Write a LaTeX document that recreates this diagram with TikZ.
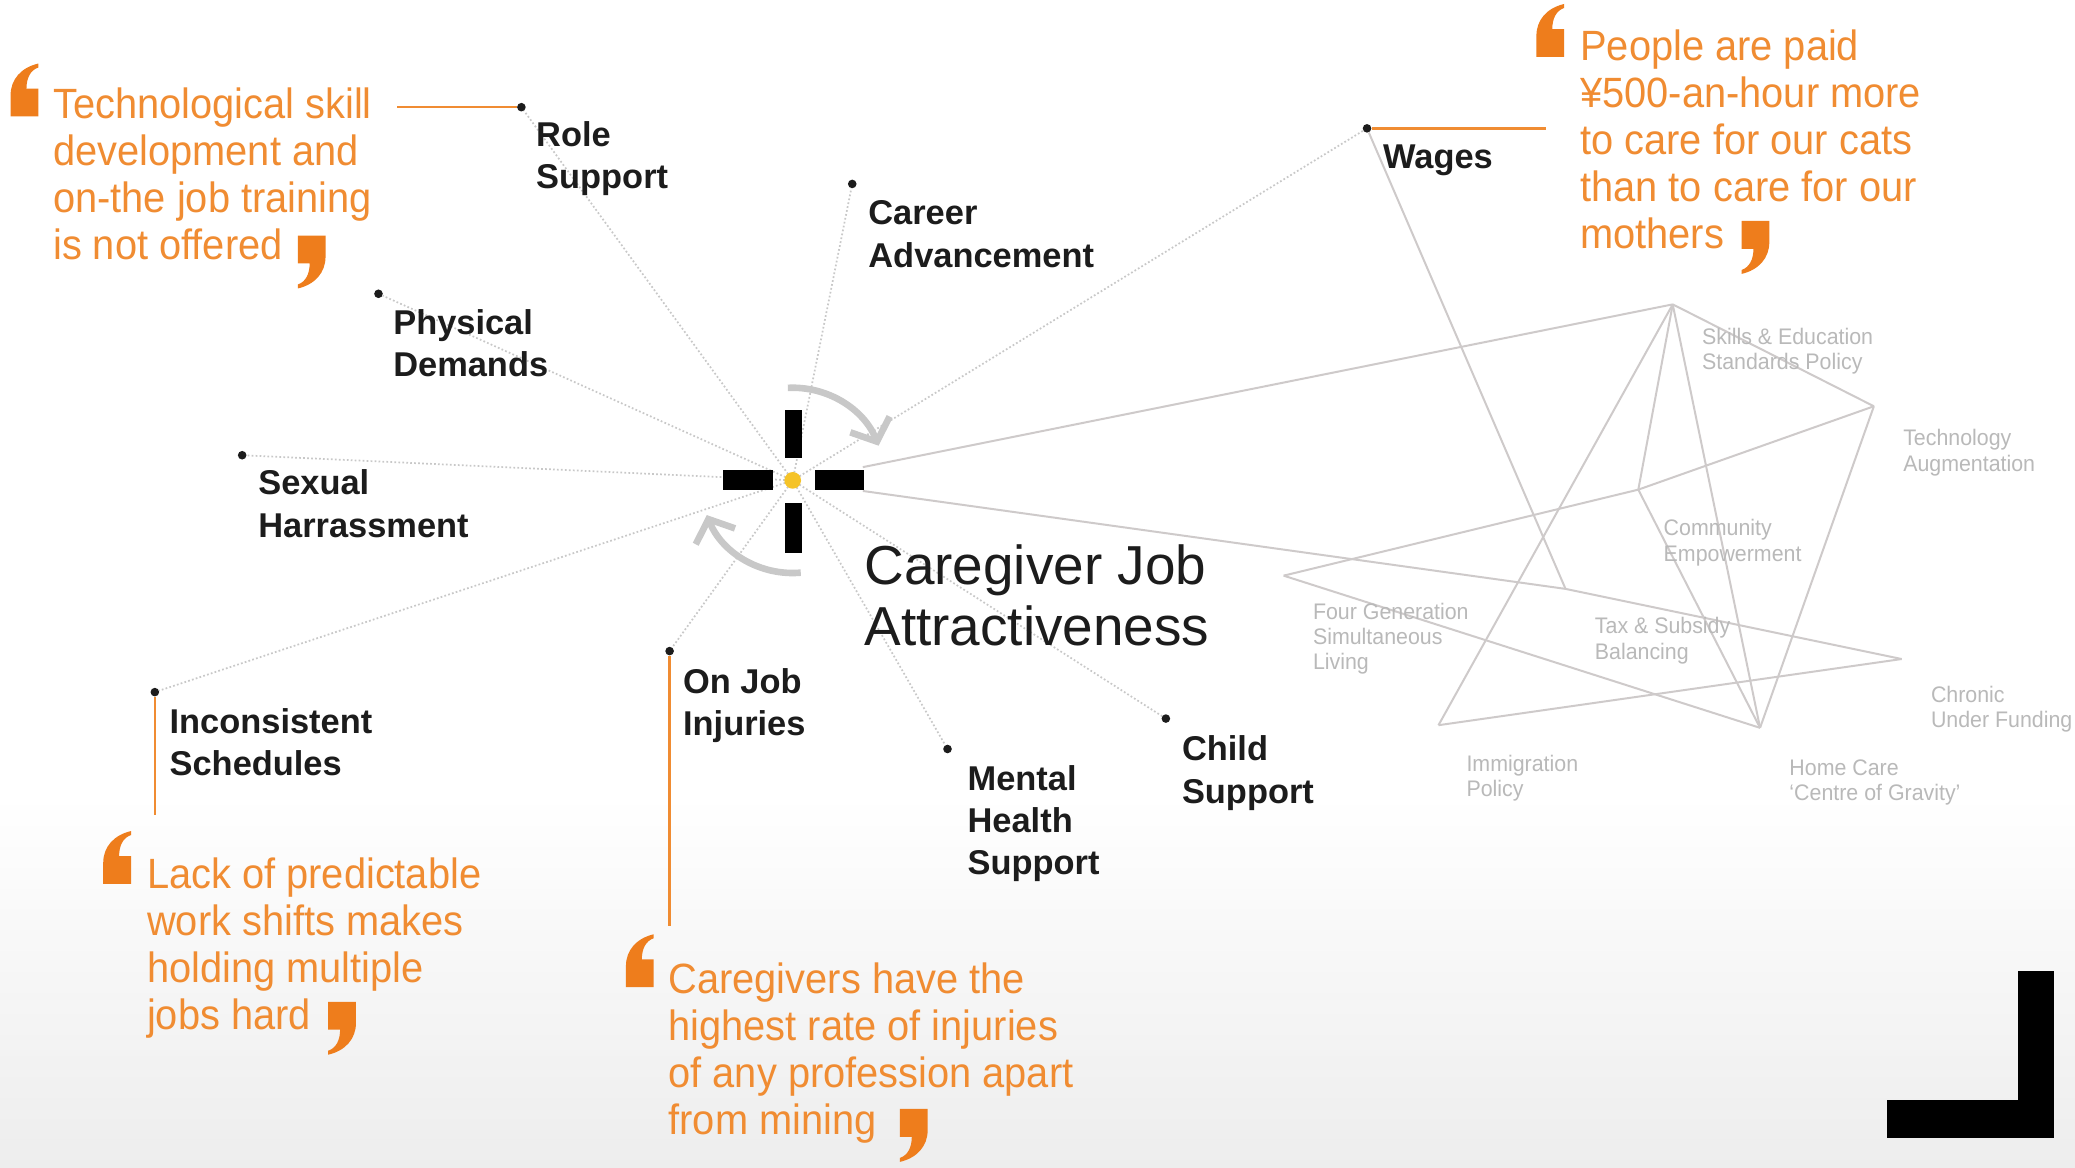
\documentclass[tikz,border=0pt]{standalone}
\usepackage{fontspec}
\setmainfont{Liberation Sans}
\newfontfamily\qfont{Liberation Sans}[FakeStretch=0.94]
\newfontfamily\nfont{Liberation Sans}[FakeStretch=0.95]
\usetikzlibrary{arrows.meta}
\definecolor{qorange}{RGB}{238,125,28}
\definecolor{torange}{RGB}{240,140,50}
\definecolor{netgray}{RGB}{206,202,202}
\definecolor{netlabel}{RGB}{185,185,185}
\definecolor{dotgray}{RGB}{200,200,200}
\definecolor{ink}{RGB}{28,28,28}
\definecolor{hubyellow}{RGB}{245,195,40}
\definecolor{arcgray}{RGB}{200,200,200}
\tikzset{
  lbl/.style={anchor=base west, inner sep=0pt, align=left, text=ink,
    font=\bfseries\fontsize{26}{31.8}\selectfont},
  quotetext/.style={anchor=base west, inner sep=0pt, align=left, text=torange,
    font=\qfont\fontsize{32}{35.6}\selectfont},
  nlbl/.style={anchor=base west, inner sep=0pt, align=left, text=netlabel,
    font=\nfont\fontsize{17}{19}\selectfont},
  dotnode/.style={circle, fill=ink, inner sep=0pt, minimum size=6.5pt},
  spokeline/.style={dotgray, line width=1.3pt, dash pattern=on 1.3pt off 1.7pt},
  netline/.style={netgray, line width=1.5pt},
  leadline/.style={torange, line width=1.8pt},
  arcline/.style={arcgray, line width=5pt},
  oq/.pic={\fill[qorange] (0,40) -- (21,40) -- (21,19) -- (12,19)
      .. controls (12,11) and (15,5) .. (21,3) -- (21,0)
      .. controls (8,3) and (0,12) .. (0,24) -- cycle;},
  cq/.pic={\fill[qorange, rotate around={180:(10.5,20)}] (0,40) -- (21,40) -- (21,19) -- (12,19)
      .. controls (12,11) and (15,5) .. (21,3) -- (21,0)
      .. controls (8,3) and (0,12) .. (0,24) -- cycle;}
}
\begin{document}
\begin{tikzpicture}[x=1pt,y=-1pt]
\useasboundingbox (0,0) rectangle (1568,882);
\fill[white] (0,0) rectangle (1568,882);
\shade[top color=white, bottom color=black!7] (0,600) rectangle (1568,882);

% centre
\coordinate (ctr) at (599,363);
\coordinate (c1) at (652,353);
\coordinate (c2) at (652,371);

% network vertices
\coordinate (A) at (1264,230);
\coordinate (B) at (1416,307);
\coordinate (C) at (1238,370);
\coordinate (D) at (970,435);
\coordinate (E) at (1183,445);
\coordinate (F) at (1437,498);
\coordinate (G) at (1087,548);
\coordinate (H) at (1330,550);

% dots
\node[dotnode] (role) at (394,81) {};
\node[dotnode] (career) at (644,139) {};
\node[dotnode] (phys) at (286,222) {};
\node[dotnode] (sex) at (183,344) {};
\node[dotnode] (incon) at (117,523) {};
\node[dotnode] (onjob) at (506,492) {};
\node[dotnode] (mental) at (716,566) {};
\node[dotnode] (child) at (881,543) {};
\node[dotnode] (wages) at (1033,97) {};

% network lines
\draw[netline] (c1) -- (A);
\draw[netline] (c2) -- (E) -- (F);
\draw[netline] (A) -- (B);
\draw[netline] (A) -- (G);
\draw[netline] (A) -- (C);
\draw[netline] (A) -- (H);
\draw[netline] (C) -- (H);
\draw[netline] (B) -- (H);
\draw[netline] (D) -- (C) -- (B);
\draw[netline] (D) -- (H);
\draw[netline] (G) -- (F);
\draw[netline] (wages) -- (E);

% spokes
\foreach \t in {role,career,phys,sex,incon,onjob,mental,child,wages}
  \draw[spokeline] (ctr) -- (\t);

% cross
\fill[black] (546,355) rectangle (584,370);
\fill[black] (616,355) rectangle (653,370);
\fill[black] (593,310) rectangle (606,346);
\fill[black] (593,380) rectangle (606,418);
\node[circle, fill=hubyellow, inner sep=0pt, minimum size=12.6pt] (hub) at (ctr) {};

% rotating arrows
\draw[arcline, -{Straight Barb[length=14pt,width=32pt]}] (ctr) ++(-93:70) arc[start angle=-93, end angle=-22, radius=70];
\draw[arcline, -{Straight Barb[length=14pt,width=32pt]}] (ctr) ++(85:70) arc[start angle=85, end angle=158, radius=70];

% labels (anchored at the baseline of the last line)
\node[lbl] (rolel) at (405,142.8) {Role\\Support};
\node[lbl] (careerl) at (656,201.8) {Career\\Advancement};
\node[lbl] (physl) at (297,284.8) {Physical\\Demands};
\node[lbl] (sexl) at (195,405.8) {Sexual\\Harrassment};
\node[lbl] (inconl) at (128,585.8) {Inconsistent\\Schedules};
\node[lbl] (onjobl) at (516,555.8) {On Job\\Injuries};
\node[lbl] (mentall) at (731,660.6) {Mental\\Health\\Support};
\node[lbl] (childl) at (893,606.8) {Child\\Support};
\node[lbl] (wagesl) at (1045,127) {Wages};

\node[anchor=base west, inner sep=0pt, align=left, text=ink,
  font=\fontsize{41.5}{46}\selectfont] (title) at (653,488) {Caregiver Job\\Attractiveness};

% leader lines
\coordinate (q1end) at (300,81);
\coordinate (q2end) at (117,616);
\coordinate (q3end) at (506,700);
\coordinate (q4end) at (1168,97);
\draw[leadline] (q1end) -- (role);
\draw[leadline] (incon) -- (q2end);
\draw[leadline] (onjob) -- (q3end);
\draw[leadline] (wages) -- (q4end);

% quotes
\node[quotetext] (q1) at (40,196.3) {Technological skill\\development and\\on-the job training\\is not offered};
\node[quotetext] (q2) at (111,778.3) {Lack of predictable\\work shifts makes\\holding multiple\\jobs hard};
\node[quotetext] (q3) at (505,857.3) {Caregivers have the\\highest rate of injuries\\of any profession apart\\from mining};
\node[quotetext] (q4) at (1194,187.9) {People are paid\\¥500-an-hour more\\to care for our cats\\than to care for our\\mothers};
\pic at (8,48) {oq};
\pic at (225,178) {cq};
\pic at (78,628) {oq};
\pic at (248,757) {cq};
\pic at (473,706) {oq};
\pic at (680,838) {cq};
\pic at (1161,3) {oq};
\pic at (1316,167) {cq};

% network labels
\node[nlbl] (n1) at (1286,279) {Skills \& Education\\Standards Policy};
\node[nlbl] (n2) at (1438,356) {Technology\\Augmentation};
\node[nlbl] (n3) at (1257,424) {Community\\Empowerment};
\node[nlbl] (n4) at (992,506) {Four Generation\\Simultaneous\\Living};
\node[nlbl] (n5) at (1205,498) {Tax \& Subsidy\\Balancing};
\node[nlbl] (n6) at (1459,550) {Chronic\\Under Funding};
\node[nlbl] (n7) at (1108,602) {Immigration\\Policy};
\node[nlbl] (n8) at (1352,605) {Home Care\\‘Centre of Gravity’};

% corner mark
\fill[black] (1525,734) rectangle (1552,860);
\fill[black] (1426,831) rectangle (1552,860);
\end{tikzpicture}
\end{document}
